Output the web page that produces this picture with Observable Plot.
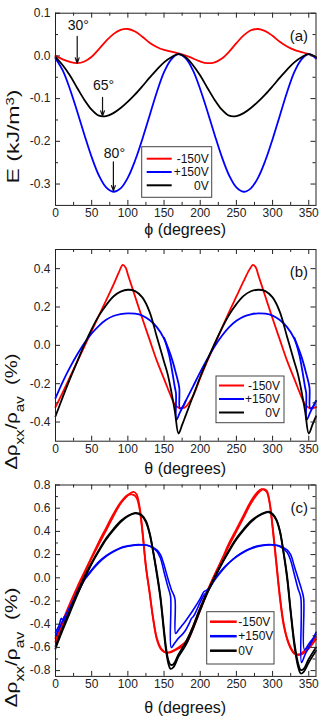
<!DOCTYPE html>
<html><head><meta charset="utf-8">
<script src="https://cdn.jsdelivr.net/npm/d3@7"></script>
<script src="https://cdn.jsdelivr.net/npm/@observablehq/plot@0.6"></script>
<style>
body{margin:0;background:#fff;}
#chart{width:332px;}
#chart svg{display:block;}
</style></head><body><div id="chart"></div>
<script>
const FONT = "'Liberation Sans', Arial, Helvetica, sans-serif";

// ---------- shared ----------
const seriesNames = ["-150V", "+150V", "0V"];
const seriesColors = ["#ff0000", "#0000ff", "#000000"];
const xMajor = [0, 50, 100, 150, 200, 250, 300, 350];
const xMinor = [25, 75, 125, 175, 225, 275, 325];

// ---------- panel (a): energy ----------
const aAngle = [0,10,20,30,40,50,60,70,80,90,100,110,120,130,140,150,160,170,180,190,200,210,220,230,240,250,260,270,280,290,300,310,320,330,340,350,360];
const aRed = [0.000,-0.008,-0.014,-0.017,-0.013,-0.002,0.016,0.035,0.051,0.061,0.063,0.057,0.045,0.031,0.021,0.014,0.010,0.006,0.001,-0.006,-0.013,-0.017,-0.015,-0.006,0.010,0.030,0.048,0.060,0.063,0.058,0.047,0.033,0.022,0.014,0.009,0.004,-0.003];
const aBlue = [-0.006,-0.034,-0.078,-0.130,-0.185,-0.237,-0.280,-0.308,-0.318,-0.310,-0.285,-0.245,-0.195,-0.140,-0.085,-0.038,-0.008,0.004,-0.006,-0.034,-0.078,-0.130,-0.185,-0.237,-0.280,-0.308,-0.318,-0.310,-0.285,-0.245,-0.195,-0.140,-0.085,-0.038,-0.008,0.004,-0.006];
const aBlack = [-0.003,-0.022,-0.046,-0.075,-0.103,-0.126,-0.140,-0.141,-0.134,-0.122,-0.107,-0.090,-0.071,-0.051,-0.032,-0.015,-0.003,0.004,-0.003,-0.022,-0.046,-0.075,-0.103,-0.126,-0.140,-0.141,-0.134,-0.122,-0.107,-0.090,-0.071,-0.051,-0.032,-0.015,-0.003,0.004,-0.003];
const aYMajor = [-0.3, -0.2, -0.1, 0.0, 0.1];
const aYMinor = [-0.25, -0.15, -0.05, 0.05];
const annoAngle = [30, 65, 80];
const annoText = ["30°", "65°", "80°"];
const annoLabelE = [0.070, -0.070, -0.229];
const annoFromE = [0.046, -0.097, -0.248];
const annoToE = [-0.017, -0.141, -0.316];

// ---------- panel (b): AMR, model ----------
const bRedX = [0,10,20,30,40,50,60,70,80,88,93,97,100,110,120,130,140,150,160,165,170,175,180,190,200,210,220,230,240,250,260,268,273,277,280,290,300,310,320,330,340,345,350,355,360];
const bRed = [-0.322,-0.245,-0.165,-0.085,-0.005,0.075,0.155,0.235,0.315,0.385,0.42,0.405,0.37,0.255,0.14,0.03,-0.08,-0.175,-0.27,-0.31,-0.325,-0.328,-0.32,-0.265,-0.17,-0.08,0.005,0.09,0.175,0.255,0.335,0.395,0.42,0.405,0.37,0.255,0.14,0.03,-0.08,-0.175,-0.27,-0.31,-0.325,-0.328,-0.322];
const bBlackX = [0,10,20,30,40,50,60,70,80,90,100,110,120,130,140,150,155,160,165,170,175,180,190,200,210,220,230,240,250,260,270,280,290,300,310,320,330,335,340,345,350,355,360];
const bBlack = [-0.37,-0.27,-0.175,-0.085,0.005,0.085,0.155,0.21,0.255,0.28,0.29,0.283,0.25,0.175,0.045,-0.085,-0.15,-0.24,-0.345,-0.46,-0.415,-0.365,-0.265,-0.165,-0.075,0.01,0.09,0.16,0.215,0.258,0.282,0.29,0.283,0.25,0.175,0.045,-0.085,-0.15,-0.24,-0.345,-0.46,-0.415,-0.37];
const bBlueX = [0,10,20,30,40,50,60,70,80,90,100,110,120,130,140,150,157,161,165,166.5,167,172,180,190,200,210,220,230,240,250,260,270,280,290,300,310,320,330,337,341,345,346.5,347,352,360];
const bBlue = [-0.275,-0.19,-0.115,-0.048,0.012,0.062,0.102,0.133,0.153,0.163,0.167,0.165,0.155,0.132,0.095,0.035,-0.05,-0.13,-0.22,-0.25,-0.39,-0.35,-0.29,-0.215,-0.14,-0.07,-0.005,0.05,0.095,0.128,0.15,0.162,0.167,0.165,0.155,0.132,0.095,0.035,-0.05,-0.13,-0.22,-0.25,-0.39,-0.35,-0.29];
const bBlue2X = [150,160,166,171,172,176,180];
const bBlue2 = [0.04,-0.06,-0.14,-0.22,-0.33,-0.32,-0.29];
const bBlue3X = [330,340,346,351,352,356,360];
const bBlue3 = [0.04,-0.06,-0.14,-0.22,-0.33,-0.32,-0.29];
const bYMajor = [-0.4, -0.2, 0.0, 0.2, 0.4];
const bYMinor = [-0.3, -0.1, 0.1, 0.3];

// ---------- panel (c): AMR, measured (two sweeps each) ----------
const cRedX = [0,10,20,30,40,50,60,70,80,90,100,105,108,112,116,120,125,130,135,140,145,150,155,160,170,180,190,200,210,220,230,240,250,260,270,280,285,288,292,296,300,305,310,315,320,325,330,335,340,350,360];
const cRedA = [-0.55,-0.40,-0.25,-0.10,0.04,0.17,0.29,0.41,0.53,0.64,0.71,0.735,0.74,0.72,0.62,0.42,0.10,-0.12,-0.35,-0.52,-0.60,-0.635,-0.645,-0.64,-0.61,-0.57,-0.44,-0.28,-0.12,0.02,0.15,0.28,0.40,0.52,0.64,0.73,0.76,0.765,0.75,0.65,0.45,0.15,-0.15,-0.38,-0.52,-0.60,-0.65,-0.665,-0.66,-0.61,-0.53];
const cRedB = [-0.52,-0.37,-0.22,-0.08,0.05,0.18,0.31,0.43,0.55,0.65,0.715,0.72,0.715,0.69,0.60,0.40,0.09,-0.13,-0.36,-0.53,-0.61,-0.64,-0.645,-0.635,-0.60,-0.55,-0.42,-0.26,-0.11,0.03,0.16,0.30,0.42,0.54,0.66,0.745,0.765,0.76,0.74,0.64,0.43,0.13,-0.17,-0.40,-0.53,-0.61,-0.655,-0.66,-0.65,-0.59,-0.51];
const cBlackX = [0,10,20,30,40,50,60,70,80,90,100,110,115,120,125,130,135,140,145,150,153,156,159,163,170,180,190,200,210,220,230,240,250,260,270,280,290,295,300,305,310,315,320,325,330,335,339,343,350,360];
const cBlackA = [-0.61,-0.45,-0.30,-0.15,-0.01,0.12,0.23,0.33,0.41,0.48,0.53,0.555,0.55,0.53,0.48,0.38,0.22,0.03,-0.18,-0.48,-0.64,-0.74,-0.785,-0.77,-0.68,-0.58,-0.44,-0.28,-0.13,0.00,0.12,0.23,0.33,0.41,0.48,0.53,0.56,0.565,0.545,0.50,0.40,0.22,0.00,-0.30,-0.58,-0.76,-0.825,-0.81,-0.73,-0.63];
const cBlackB = [-0.59,-0.43,-0.28,-0.13,0.01,0.13,0.24,0.34,0.42,0.49,0.535,0.56,0.555,0.535,0.49,0.39,0.23,0.05,-0.16,-0.45,-0.61,-0.71,-0.75,-0.745,-0.66,-0.555,-0.42,-0.26,-0.12,0.01,0.13,0.24,0.34,0.42,0.49,0.535,0.565,0.57,0.55,0.505,0.41,0.23,0.02,-0.28,-0.55,-0.73,-0.795,-0.785,-0.70,-0.60];
const cBlueAX = [0,5,8,11,15,20,25,30,35,40,50,60,70,80,90,100,110,120,130,140,145,150,155,159,160,165,170,175,180,185,188,191,195,200,205,210,220,230,240,250,260,270,280,290,300,310,320,325,330,335,339,340,345,350,355,360];
const cBlueA = [-0.47,-0.41,-0.35,-0.37,-0.31,-0.25,-0.19,-0.12,-0.06,-0.01,0.07,0.14,0.19,0.23,0.26,0.275,0.285,0.285,0.275,0.23,0.17,0.05,-0.07,-0.16,-0.60,-0.56,-0.52,-0.49,-0.45,-0.39,-0.35,-0.33,-0.28,-0.21,-0.15,-0.12,-0.02,0.06,0.13,0.185,0.225,0.255,0.275,0.285,0.285,0.27,0.22,0.15,0.03,-0.09,-0.17,-0.73,-0.66,-0.60,-0.54,-0.47];
const cBlueBX = [0,5,10,13,16,20,25,30,35,40,50,60,70,80,90,100,110,120,130,140,145,150,155,160,165,166,170,175,180,190,200,205,208,212,220,230,240,250,260,270,280,290,300,310,320,325,330,335,340,343,344,350,355,360];
const cBlueB = [-0.50,-0.44,-0.37,-0.33,-0.34,-0.28,-0.21,-0.14,-0.08,-0.02,0.06,0.13,0.185,0.225,0.255,0.272,0.282,0.283,0.275,0.24,0.20,0.11,0.00,-0.10,-0.18,-0.48,-0.45,-0.41,-0.37,-0.28,-0.18,-0.12,-0.11,-0.09,-0.01,0.07,0.13,0.18,0.22,0.25,0.27,0.282,0.283,0.275,0.24,0.20,0.10,0.00,-0.10,-0.18,-0.62,-0.57,-0.53,-0.49];
const cYMajor = [-0.8, -0.6, -0.4, -0.2, 0.0, 0.2, 0.4, 0.6, 0.8];
const cYMinor = [-0.7, -0.5, -0.3, -0.1, 0.1, 0.3, 0.5, 0.7];

// ---------- helpers ----------
function toRows(xs, ys) { return xs.map((x, i) => ({x, y: ys[i]})); }
const W = 332, ML = 55, MR = 16.5;

function makePanel(cfg) {
  const fh = cfg.height - cfg.mt - cfg.mb;
  const fw = W - ML - MR;
  const tk = "#222";
  const lineMarks = cfg.lines.map(l => Plot.line(toRows(l.x, l.y), {
    x: "x", y: "y", stroke: l.color, strokeWidth: l.sw || 1.8, curve: "catmull-rom"
  }));
  const plot = Plot.plot({
    width: W, height: cfg.height,
    marginTop: cfg.mt, marginBottom: cfg.mb, marginLeft: ML, marginRight: MR,
    style: {fontFamily: FONT, fontSize: "12px", background: "white", color: "#222", overflow: "visible"},
    x: {domain: [0, 360]},
    y: {domain: cfg.yDomain},
    marks: [
      ...lineMarks,
      ...(cfg.extra || []),
      Plot.ruleX(xMajor, {insetTop: fh - 5, stroke: tk}),
      Plot.ruleX(xMajor, {insetBottom: fh - 5, stroke: tk}),
      Plot.ruleX(xMinor, {insetTop: fh - 3, stroke: tk}),
      Plot.ruleX(xMinor, {insetBottom: fh - 3, stroke: tk}),
      Plot.ruleY(cfg.yMajor, {insetRight: fw - 5, stroke: tk}),
      Plot.ruleY(cfg.yMajor, {insetLeft: fw - 5, stroke: tk}),
      Plot.ruleY(cfg.yMinor, {insetRight: fw - 3, stroke: tk}),
      Plot.ruleY(cfg.yMinor, {insetLeft: fw - 3, stroke: tk}),
      Plot.axisX(xMajor, {tickSize: 0, tickPadding: cfg.xPad, fontSize: 12, tickFormat: d => String(d), label: null}),
      Plot.axisY(cfg.yMajor, {tickSize: 0, tickPadding: 5, fontSize: 12, tickFormat: d => d.toFixed(1), label: null}),
      Plot.frame({stroke: tk, strokeWidth: 1}),
      Plot.text([cfg.tag], {frameAnchor: "top-right", dx: -8, dy: 17, fontSize: 15, fill: "#111"})
    ]
  });
  const svg = d3.select(plot);
  // x title
  svg.append("text").attr("x", ML + fw / 2).attr("y", cfg.height - cfg.mb + cfg.xTitleDy)
    .attr("text-anchor", "middle").attr("font-family", FONT).attr("font-size", 16).attr("fill", "#111")
    .text(cfg.xTitle);
  // y title (rotated, with sub/superscripts)
  const yt = svg.append("text")
    .attr("transform", `translate(${cfg.yTitleX},${cfg.yTitleY}) rotate(-90)`)
    .attr("x", -cfg.yTitleLen / 2)
    .attr("textLength", cfg.yTitleLen).attr("lengthAdjust", "spacingAndGlyphs")
    .attr("font-family", FONT).attr("font-size", cfg.yTitleSize || 16).attr("fill", "#111")
    .style("white-space", "pre");
  cfg.yTitle.forEach(p => {
    const t = yt.append("tspan").text(p.t);
    if (p.sub) t.attr("font-size", "0.75em").attr("baseline-shift", "sub");
    if (p.sup) t.attr("font-size", "0.65em").attr("baseline-shift", "super");
  });
  // legend
  const L = cfg.legend;
  const g = svg.append("g");
  g.append("rect").attr("x", L.x).attr("y", L.y).attr("width", L.w).attr("height", L.h)
    .attr("fill", "white").attr("stroke", "#444").attr("stroke-width", 1);
  seriesNames.forEach((name, i) => {
    const yy = L.y + L.rowY[i];
    g.append("line").attr("x1", L.x + L.l1).attr("x2", L.x + L.l2).attr("y1", yy).attr("y2", yy)
      .attr("stroke", seriesColors[i]).attr("stroke-width", L.sw || 2);
    g.append("text").attr("x", L.x + L.tx).attr("y", yy).attr("dy", "0.35em")
      .attr("text-anchor", L.anchor).attr("font-family", FONT).attr("font-size", 12).attr("fill", "#111")
      .text(name);
  });
  return plot;
}

const chart = document.getElementById("chart");

// panel (a)
const annoRows = annoAngle.map((a, i) => ({a, t: annoText[i], ly: annoLabelE[i], y1: annoFromE[i], y2: annoToE[i]}));
chart.appendChild(makePanel({
  height: 240, mt: 12.7, mb: 35.1, yDomain: [-0.35, 0.1], yMajor: aYMajor, yMinor: aYMinor,
  xPad: 3, xTitleDy: 30, xTitle: "\u03d5 (degrees)",
  yTitleX: 18.5, yTitleY: 89.5, yTitleLen: 94, yTitleSize: 16,
  yTitle: [{t: "E (kJ/m"}, {t: "3", sup: true}, {t: ")"}],
  tag: "(a)",
  lines: [
    {x: aAngle, y: aRed, color: seriesColors[0]},
    {x: aAngle, y: aBlue, color: seriesColors[1]},
    {x: aAngle, y: aBlack, color: seriesColors[2]}
  ],
  extra: [
    Plot.arrow(annoRows, {x1: "a", x2: "a", y1: "y1", y2: "y2", stroke: "#111", strokeWidth: 1.2, headLength: 7, headAngle: 40}),
    Plot.text(annoRows, {x: "a", y: "ly", text: "t", fontSize: 14, fill: "#111", dx: 1})
  ],
  legend: {x: 141.7, y: 146.7, w: 70, h: 50.6, rowY: [12, 25.3, 38.6], l1: 5, l2: 30, tx: 67, anchor: "end"}
}));

// panel (b)
chart.appendChild(makePanel({
  height: 240, mt: 9, mb: 39.3, yDomain: [-0.5, 0.5], yMajor: bYMajor, yMinor: bYMinor,
  xPad: 3, xTitleDy: 33.5, xTitle: "\u03b8 (degrees)",
  yTitleX: 17, yTitleY: 113.5, yTitleLen: 116, yTitleSize: 16,
  yTitle: [{t: "\u0394\u03c1"}, {t: "xx", sub: true}, {t: "/\u03c1"}, {t: "av", sub: true}, {t: "\u00a0\u00a0(%)"}],
  tag: "(b)",
  lines: [
    {x: bRedX, y: bRed, color: seriesColors[0]},
    {x: bBlueX, y: bBlue, color: seriesColors[1]},
    {x: bBlue2X, y: bBlue2, color: seriesColors[1]},
    {x: bBlue3X, y: bBlue3, color: seriesColors[1]},
    {x: bBlackX, y: bBlack, color: seriesColors[2]}
  ],
  legend: {x: 216, y: 136, w: 68, h: 46.7, rowY: [9.5, 23, 36.5], l1: 3, l2: 28, tx: 64, anchor: "end"}
}));

// panel (c)
chart.appendChild(makePanel({
  height: 242, mt: 4.5, mb: 46.1, yDomain: [-0.85, 0.8], yMajor: cYMajor, yMinor: cYMinor,
  xPad: 3, xTitleDy: 37, xTitle: "\u03b8 (degrees)",
  yTitleX: 17, yTitleY: 107.5, yTitleLen: 120, yTitleSize: 16,
  yTitle: [{t: "\u0394\u03c1"}, {t: "xx", sub: true}, {t: "/\u03c1"}, {t: "av", sub: true}, {t: "\u00a0\u00a0(%)"}],
  tag: "(c)",
  lines: [
    {x: cRedX, y: cRedA, color: seriesColors[0]},
    {x: cRedX, y: cRedB, color: seriesColors[0]},
    {x: cBlueAX, y: cBlueA, color: seriesColors[1], sw: 1.6},
    {x: cBlueBX, y: cBlueB, color: seriesColors[1], sw: 1.6},
    {x: cBlackX, y: cBlackA, color: seriesColors[2]},
    {x: cBlackX, y: cBlackB, color: seriesColors[2]}
  ],
  legend: {x: 206.7, y: 131.7, w: 67.3, h: 52.3, rowY: [10, 24.5, 39], l1: 3.3, l2: 30, tx: 31.6, anchor: "start", sw: 2.5}
}));
</script>
</body></html>
